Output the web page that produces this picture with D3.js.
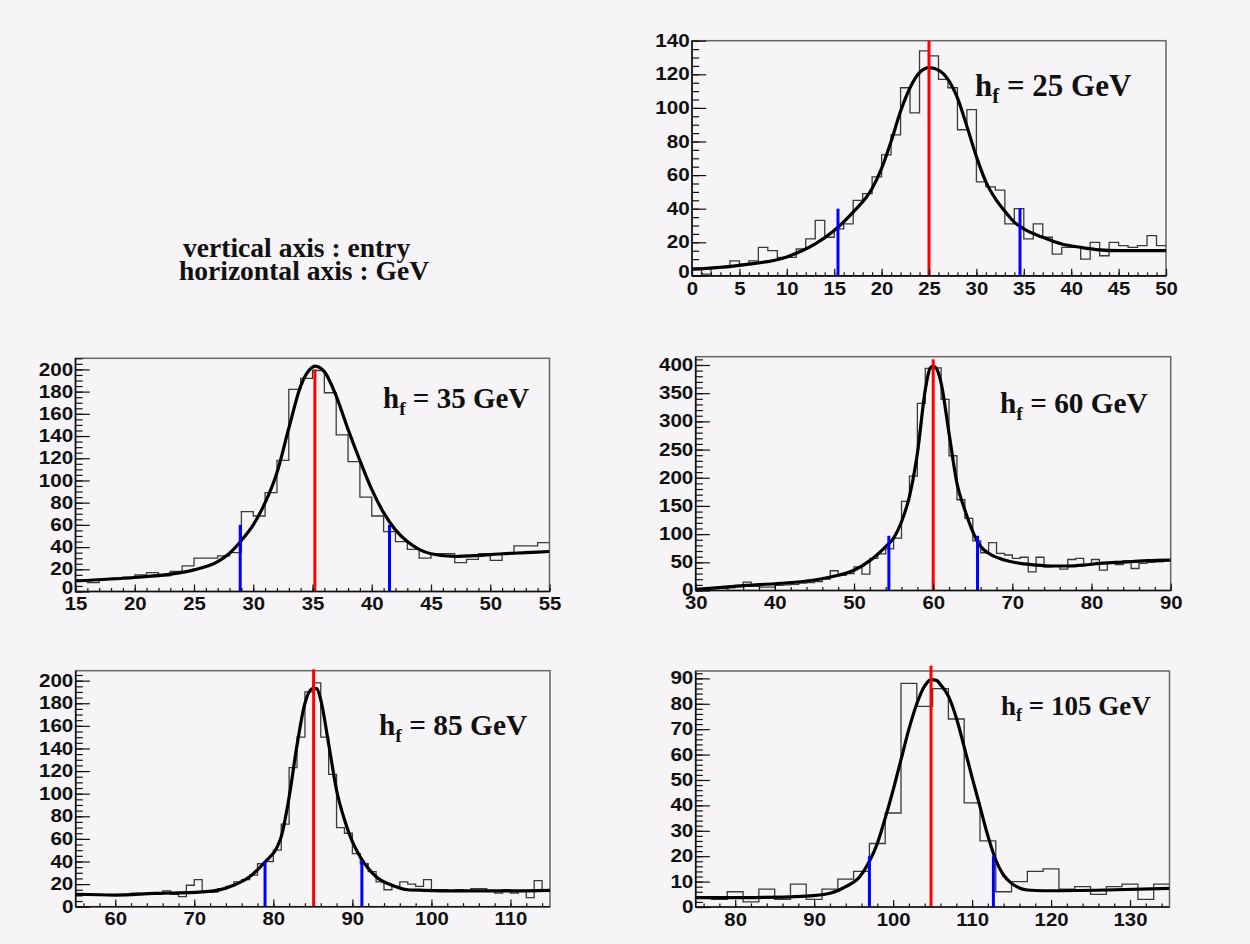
<!DOCTYPE html>
<html>
<head>
<meta charset="utf-8">
<script src="https://cdn.jsdelivr.net/npm/d3@7"></script>
<style>
  body { margin: 0; background: #ffffff; }
  svg { display: block; }
  .ylab text { font-family: "Liberation Sans", Arial, sans-serif; font-weight: bold; font-size: 17.5px; fill: #111; }
  .xlab text { font-family: "Liberation Sans", Arial, sans-serif; font-weight: bold; font-size: 18.5px; fill: #111; }
  .ticks line { stroke: #111; stroke-width: 1.2; }
  .serif { font-family: "Liberation Serif", "Times New Roman", serif; font-weight: bold; fill: #111; }
</style>
</head>
<body>
<svg id="chart" width="1250" height="944"></svg>
<script>
// ---- reconstructed mass points (GeV) ----
const massPoints = [25, 35, 60, 85, 105];

// x range and y range of every panel
const xDomains = [[0, 50], [15, 55], [30, 90], [55, 115], [75, 135]];
const yMaxima = [140, 210, 414.7, 208.8, 92.9];
const binWidths = [1, 1, 1, 1, 2];

// labelled tick values
const xTicks25 = [0, 5, 10, 15, 20, 25, 30, 35, 40, 45, 50];
const xTicks35 = [15, 20, 25, 30, 35, 40, 45, 50, 55];
const xTicks60 = [30, 40, 50, 60, 70, 80, 90];
const xTicks85 = [60, 70, 80, 90, 100, 110];
const xTicks105 = [80, 90, 100, 110, 120, 130];
const yTicks25 = [0, 20, 40, 60, 80, 100, 120, 140];
const yTicks35 = [0, 20, 40, 60, 80, 100, 120, 140, 160, 180, 200];
const yTicks60 = [0, 50, 100, 150, 200, 250, 300, 350, 400];
const yTicks85 = [0, 20, 40, 60, 80, 100, 120, 140, 160, 180, 200];
const yTicks105 = [0, 10, 20, 30, 40, 50, 60, 70, 80, 90];

// histogram contents, one entry per bin, starting at the left edge of the x range
const counts25 = [4, 1, 5, 5, 9, 7, 9, 17, 15, 11, 11, 16, 22, 33, 23, 28, 31, 45, 49, 59,
  72, 84, 112, 97, 134, 131, 117, 112, 87, 99, 56, 53, 51, 31, 40, 22, 31, 23, 13, 17,
  17, 10, 20, 12, 20, 18, 17, 18, 24, 18];
const counts35 = [10, 8, 11, 12, 13, 15, 17, 14, 18, 23, 30, 30, 32, 35, 72, 68, 89, 118, 182, 192,
  199, 179, 141, 117, 85, 68, 54, 45, 38, 30, 34, 34, 26, 29, 34, 28, 34, 41, 41, 44];
const counts60 = [3, 3, 5, 4, 5, 7, 15, 8, 6, 6, 9, 10, 11, 13, 14, 16, 20, 35, 27, 30,
  42, 29, 57, 65, 74, 93, 158, 203, 332, 394, 395, 339, 239, 161, 128, 88, 67, 85, 66, 63,
  57, 59, 33, 59, 42, 43, 38, 55, 57, 45, 55, 36, 48, 46, 53, 39, 48, 50, 51, 53];
const counts85 = [10, 11, 10, 10, 10, 10, 10, 12, 11, 11, 11, 14, 11, 9, 19, 24, 13, 13, 16, 18,
  22, 24, 28, 38, 40, 50, 73, 123, 150, 190, 198, 150, 117, 70, 65, 47, 38, 31, 22, 15,
  18, 22, 20, 18, 24, 15, 15, 14, 15, 14, 16, 16, 14, 12, 15, 12, 14, 8, 23, 15];
const counts105 = [4, 3, 6, 2, 7, 3, 9, 3, 7, 11, 14, 25, 37, 88, 79, 86, 74, 41, 26, 6,
  10, 14, 15, 7, 8, 5, 8, 9, 3, 9];

// fitted curve, sampled as [GeV, entries]
const fit25 = [[0, 4], [5, 6.3], [10, 11.3], [13, 19], [15, 27], [17, 38], [19, 52], [20, 64], [21, 80],
  [22, 98], [23, 112], [24, 121], [25, 124], [26, 122.5], [27, 117], [28, 106], [29, 89], [30, 71],
  [31, 56], [32, 46], [33, 38.5], [34, 32], [35, 28], [37, 23], [39, 19], [41, 17], [43, 15.5],
  [45, 15], [47, 15], [50, 15]];
const fit35 = [[15, 9.6], [20, 12.6], [23, 15.6], [25, 19.5], [27, 27], [28, 34.5], [29, 46], [30, 60],
  [31, 80], [32, 107], [33, 147], [34, 185], [35, 202], [35.2, 203], [36, 198], [37, 176], [38, 146],
  [39, 118], [40, 92], [41, 71], [42, 55.5], [43, 45], [44, 38], [45, 34], [47, 31.5], [49, 32.4],
  [51, 34], [53, 35], [55, 36]];
const fit60 = [[30, 2], [33, 5], [36.4, 9], [40, 12], [45, 18.7], [48, 27], [50, 36], [52, 53], [54, 78],
  [55, 93], [56, 122], [57, 167], [58, 243], [59, 356], [59.6, 394], [60, 398], [60.4, 394], [61, 368],
  [62, 279], [63, 190], [64, 143], [65, 104.5], [66, 78], [67, 66], [69, 54], [71, 48], [73, 45],
  [75, 43.5], [77, 43.5], [79, 45], [81, 48], [83, 50], [85, 51], [87, 53], [90, 54]];
const fit85 = [[55, 11], [60, 10.3], [65, 11.8], [70, 12.7], [73, 14.7], [75, 19], [77, 26.5], [79, 40],
  [80.5, 53], [81, 62], [82, 97], [83, 143], [84, 180], [85, 193], [85.5, 193], [86, 183], [87, 144],
  [88, 103], [89, 77], [90, 57.5], [91, 44], [92, 34], [93, 26.5], [95, 19], [97, 15], [99, 14.5],
  [103, 14], [110, 14], [115, 14.5]];
const fit105 = [[75, 3.7], [81, 3.7], [89, 4.3], [92, 5.4], [94, 8], [95.8, 12], [97, 18], [98, 25],
  [99, 35], [100, 46], [101, 58], [102, 70], [103, 80], [104, 87], [104.8, 89.5], [105.5, 89.2],
  [106, 87.5], [107, 83], [108, 74.5], [109, 63], [110, 51], [111, 39.5], [112, 28], [113, 18.5],
  [114, 12.5], [115, 9.3], [116, 7.5], [117, 6.7], [119, 6.4], [127, 6.7], [135, 7.3]];

// fitted peak position and the window edges around it
const peakPos = [25, 35.2, 60, 85.1, 104.8];
const peakLineTop = [140, 200, 410, 210, 95];
const windowLow = [15.4, 28.9, 54.4, 78.95, 97.0];
const windowHigh = [34.6, 41.5, 65.6, 91.2, 112.7];
const windowLineTop = [40, 60, 97, 40, 20];

// ---- page layout ----
const frames = [
  { l: 692, t: 40.7, r: 1166, b: 275.9 },
  { l: 75.5, t: 358.3, r: 549.5, b: 591.5 },
  { l: 695.7, t: 356.7, r: 1170.7, b: 590.5 },
  { l: 75.7, t: 670.7, r: 550, b: 906.7 },
  { l: 695.7, t: 671, r: 1169.5, b: 907 }
];
const titlePos = [[975, 96], [383, 408], [1000, 413], [379, 735], [1001, 715]];
const titleSize = [31, 29, 29.3, 29.4, 27];
const zeroLift = [4, 4, 1, 0, 0];
const minorX = [[0, 50, 1], [15, 55, 1], [30, 90, 2], [56, 114, 2], [76, 134, 2]];
const minorY = [[0, 140, 5], [0, 210, 5], [0, 410, 10], [0, 205, 5], [0, 92, 2]];

const allCounts = [counts25, counts35, counts60, counts85, counts105];
const allFits = [fit25, fit35, fit60, fit85, fit105];
const allXTicks = [xTicks25, xTicks35, xTicks60, xTicks85, xTicks105];
const allYTicks = [yTicks25, yTicks35, yTicks60, yTicks85, yTicks105];

const svg = d3.select("#chart");
svg.append("rect").attr("width", 1250).attr("height", 944).attr("fill", "#f7f4f7");

// legend for the axes
const note = svg.append("text").attr("class", "serif").attr("font-size", 26.5)
  .attr("transform", "translate(181,0) scale(1.04,1) translate(-181,0)");
note.append("tspan").attr("x", 183).attr("y", 257).text("vertical axis : entry");
note.append("tspan").attr("x", 179).attr("y", 280).text("horizontal axis : GeV");

massPoints.forEach((m, i) => {
  const f = frames[i];
  const x = d3.scaleLinear().domain(xDomains[i]).range([f.l, f.r]);
  const y = d3.scaleLinear().domain([0, yMaxima[i]]).range([f.b, f.t]);
  const g = svg.append("g");

  const clipId = "clip" + i;
  svg.append("clipPath").attr("id", clipId)
    .append("rect").attr("x", f.l).attr("y", f.t).attr("width", f.r - f.l).attr("height", f.b - f.t);

  // frame
  g.append("rect").attr("x", f.l).attr("y", f.t).attr("width", f.r - f.l).attr("height", f.b - f.t)
    .attr("fill", "none").attr("stroke", "#666").attr("stroke-width", 1.5);

  // histogram outline
  const w = binWidths[i];
  const x0 = xDomains[i][0];
  const steps = allCounts[i].map((c, k) => [x0 + k * w, c]);
  steps.push([x0 + allCounts[i].length * w, allCounts[i][allCounts[i].length - 1]]);
  g.append("path")
    .attr("clip-path", `url(#${clipId})`)
    .attr("d", d3.line().x(d => x(d[0])).y(d => y(d[1])).curve(d3.curveStepAfter)(steps))
    .attr("fill", "none").attr("stroke", "#3a3a3a").attr("stroke-width", 1.3);

  // fit
  g.append("path")
    .attr("clip-path", `url(#${clipId})`)
    .attr("d", d3.line().x(d => x(d[0])).y(d => y(d[1])).curve(d3.curveMonotoneX)(allFits[i]))
    .attr("fill", "none").attr("stroke", "#000").attr("stroke-width", 3.2)
    .attr("stroke-linejoin", "round");

  // peak marker
  g.append("line")
    .attr("x1", x(peakPos[i])).attr("x2", x(peakPos[i]))
    .attr("y1", y(0)).attr("y2", y(peakLineTop[i]))
    .attr("stroke", "#ff0000").attr("stroke-width", 3);

  // window edges
  [windowLow[i], windowHigh[i]].forEach(v => {
    g.append("line")
      .attr("x1", x(v)).attr("x2", x(v))
      .attr("y1", y(0)).attr("y2", y(windowLineTop[i]))
      .attr("stroke", "#0000ff").attr("stroke-width", 3);
  });

  // inner ticks
  const mx = d3.range(minorX[i][0], minorX[i][1] + 1e-9, minorX[i][2]);
  const my = d3.range(minorY[i][0], minorY[i][1] + 1e-9, minorY[i][2]);
  const tickLenY = 0.03 * (f.r - f.l);
  const tickLenX = 0.03 * (f.b - f.t);

  const addTicks = (axis, transform) => {
    const t = g.append("g").attr("class", "ticks").attr("transform", transform).call(axis);
    t.select(".domain").remove();
  };
  addTicks(d3.axisRight(y).tickValues(allYTicks[i]).tickSize(tickLenY).tickFormat(""), `translate(${f.l},0)`);
  addTicks(d3.axisRight(y).tickValues(my).tickSize(tickLenY / 2).tickFormat(""), `translate(${f.l},0)`);
  addTicks(d3.axisTop(x).tickValues(allXTicks[i]).tickSize(tickLenX).tickFormat(""), `translate(0,${f.b})`);
  addTicks(d3.axisTop(x).tickValues(mx).tickSize(tickLenX / 2).tickFormat(""), `translate(0,${f.b})`);

  // axis lines
  g.append("line").attr("x1", f.l).attr("x2", f.l).attr("y1", f.t).attr("y2", f.b)
    .attr("stroke", "#111").attr("stroke-width", 1.6);
  g.append("line").attr("x1", f.l).attr("x2", f.r).attr("y1", f.b).attr("y2", f.b)
    .attr("stroke", "#111").attr("stroke-width", 1.6);

  // tick labels
  const yl = g.append("g").attr("class", "ylab").attr("transform", `translate(${f.l},0)`)
    .call(d3.axisLeft(y).tickValues(allYTicks[i]).tickSize(0).tickPadding(2));
  yl.select(".domain").remove();
  yl.selectAll("text").attr("transform", "scale(1.18,1)")
    .attr("dy", d => d === 0 ? (0.32 * 17.5 - zeroLift[i]) + "px" : "0.32em");

  const xl = g.append("g").attr("class", "xlab").attr("transform", `translate(0,${f.b})`)
    .call(d3.axisBottom(x).tickValues(allXTicks[i]).tickSize(0).tickPadding(5.5));
  xl.select(".domain").remove();
  xl.selectAll("text").attr("transform", "scale(1.1,1)");

  // mass label
  const [tx, ty] = titlePos[i];
  const fs = titleSize[i];
  const title = g.append("text").attr("class", "serif").attr("x", tx).attr("y", ty).attr("font-size", fs);
  title.append("tspan").text("h");
  title.append("tspan").attr("font-size", fs * 0.67).attr("dy", fs * 0.23).text("f");
  title.append("tspan").attr("dy", -fs * 0.23).text(` = ${m} GeV`);
});
</script>
</body>
</html>
